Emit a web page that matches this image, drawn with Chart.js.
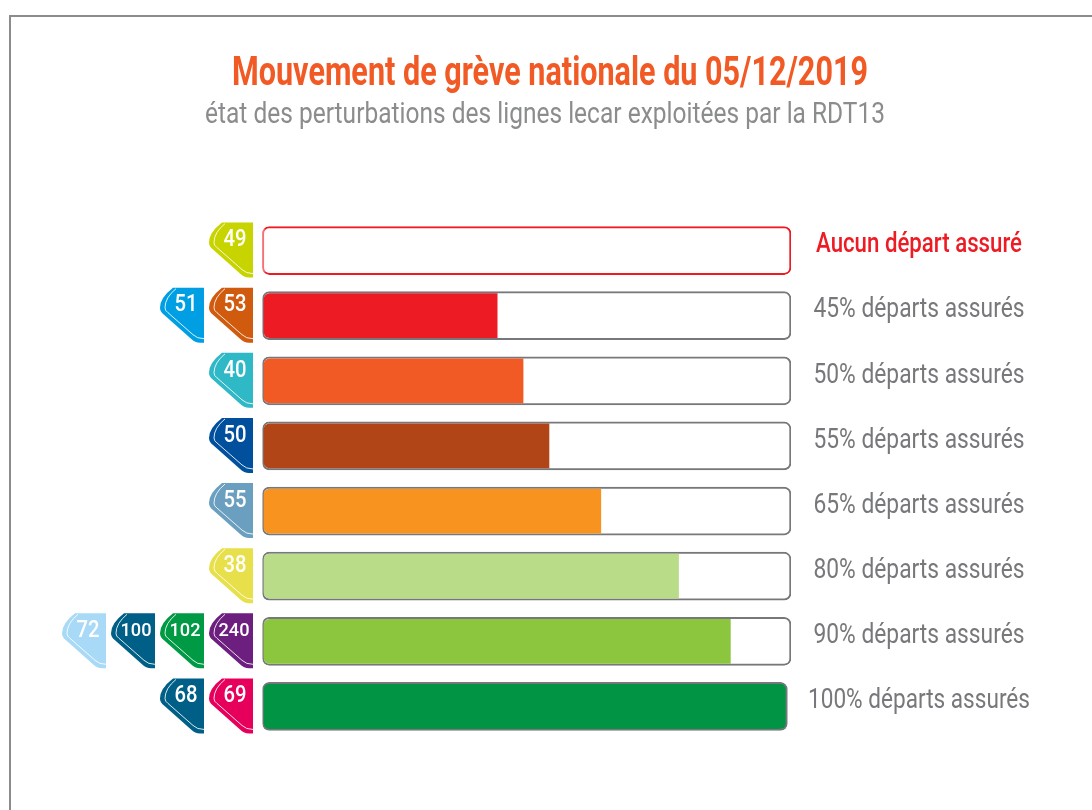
<!DOCTYPE html>
<html>
<head>
<meta charset="utf-8">
<title>Mouvement de grève</title>
<script src="https://cdn.jsdelivr.net/npm/chart.js@4"></script>
<style>
  html, body { margin: 0; background: #fff; }
  #wrap { width: 1092px; height: 810px; }
</style>
</head>
<body>
<div id="wrap"><canvas id="strikeChart"></canvas></div>
<script>
// === Data ===
const chartTitle = "Mouvement de grève nationale du 05/12/2019";
const chartSubtitle = "état des perturbations des lignes lecar exploitées par la RDT13";

const categories = [
  "Aucun départ assuré",
  "45% départs assurés",
  "50% départs assurés",
  "55% départs assurés",
  "65% départs assurés",
  "80% départs assurés",
  "90% départs assurés",
  "100% départs assurés"
];
const assuredPercent = [0, 45, 50, 55, 65, 80, 90, 100];
const trackEnds = [101.7, 101.7, 101.7, 101.7, 101.7, 101.7, 101.7, 101];
const barColours = ["#ffffff", "#ed1c24", "#f15a24", "#b14518", "#f7931e", "#b9dc88", "#8cc63f", "#009444"];

const lineNumbers = [
  ["49"],
  ["51", "53"],
  ["40"],
  ["50"],
  ["55"],
  ["38"],
  ["72", "100", "102", "240"],
  ["68", "69"]
];
const lineColours = [
  ["#c8d400"],
  ["#009fe3", "#d05a0e"],
  ["#2fb8c6"],
  ["#00509d"],
  ["#6a9fc0"],
  ["#e8e04a"],
  ["#a8daf8", "#005f86", "#009a44", "#6d1f80"],
  ["#005f86", "#e6005c"]
];

const textFont = "Roboto, sans-serif";
const trackStart = -0.3;

// === Frame and headings ===
const framePlugin = {
  id: "frame",
  beforeDraw(chart) {
    const ctx = chart.ctx;
    ctx.save();
    ctx.strokeStyle = "#8c8c8c";
    ctx.lineWidth = 2;
    ctx.beginPath();
    ctx.moveTo(10, 810);
    ctx.lineTo(10, 16);
    ctx.lineTo(1092, 16);
    ctx.stroke();

    // fillText's maxWidth squeezes the text, the original uses a condensed face
    ctx.textAlign = "center";
    ctx.textBaseline = "middle";
    ctx.fillStyle = "#f15a24";
    ctx.font = "bold 41px " + textFont;
    ctx.fillText(chartTitle, 550, 75, 636);
    ctx.fillStyle = "#8a8c8e";
    ctx.font = "30px " + textFont;
    ctx.fillText(chartSubtitle, 545, 115, 680);
    ctx.restore();
  }
};

// === Tag shape of a line number, right edge at x ===
function drawLineTag(ctx, x, cy, colour, number) {
  const top = cy - 28;
  ctx.fillStyle = colour;
  ctx.beginPath();
  ctx.moveTo(x, top);
  ctx.lineTo(x - 31, top);
  ctx.quadraticCurveTo(x - 44, top + 10, x - 44, top + 20);
  ctx.quadraticCurveTo(x - 44, top + 24, x - 40, top + 27);
  ctx.lineTo(x - 13, top + 51);
  ctx.quadraticCurveTo(x - 9, top + 55, x - 4, top + 55);
  ctx.lineTo(x, top + 55);
  ctx.closePath();
  ctx.fill();

  // thin white inner line
  ctx.strokeStyle = "rgba(255,255,255,0.85)";
  ctx.lineWidth = 1;
  ctx.beginPath();
  ctx.moveTo(x - 28, top + 1);
  ctx.quadraticCurveTo(x - 39, top + 10, x - 39, top + 20);
  ctx.quadraticCurveTo(x - 39, top + 23, x - 36, top + 25);
  ctx.lineTo(x - 11, top + 47);
  ctx.quadraticCurveTo(x - 7, top + 51, x, top + 51);
  ctx.stroke();

  const long = number.length > 2;
  ctx.fillStyle = "#ffffff";
  ctx.font = "500 " + (long ? 19 : 23) + "px " + textFont;
  ctx.textAlign = "center";
  ctx.textBaseline = "middle";
  ctx.fillText(number, x - (long ? 19 : 18), top + 18, long ? 31 : 23);
}

// === Tags on the left, captions on the right of each bar ===
const rowDecorPlugin = {
  id: "rowDecor",
  afterDatasetsDraw(chart) {
    const ctx = chart.ctx;
    const yScale = chart.scales.y;
    ctx.save();
    categories.forEach((caption, i) => {
      const cy = yScale.getPixelForValue(i);

      const numbers = lineNumbers[i];
      numbers.forEach((number, k) => {
        const slot = numbers.length - 1 - k;
        drawLineTag(ctx, 253 - slot * 49, cy, lineColours[i][k], number);
      });

      ctx.fillStyle = i === 0 ? "#ed1c24" : "#77787b";
      ctx.font = (i === 0 ? "500 27px " : "27px ") + textFont;
      ctx.textAlign = "center";
      ctx.textBaseline = "middle";
      const captionWidth = i === 0 ? 206 : (i === 7 ? 222 : 211);
      ctx.fillText(caption, 919, cy - 5, captionWidth);
    });
    ctx.restore();
  }
};

// === Chart ===
new Chart(document.getElementById("strikeChart").getContext("2d"), {
  type: "bar",
  data: {
    labels: categories,
    datasets: [
      {
        label: "Départs assurés",
        data: assuredPercent,
        backgroundColor: barColours,
        borderWidth: 0,
        barThickness: 44,
        borderRadius: (c) => {
          const r = c.dataIndex === categories.length - 1 ? 6 : 0;
          return { topLeft: 6, bottomLeft: 6, topRight: r, bottomRight: r };
        },
        borderSkipped: false
      },
      {
        label: "Fond",
        data: trackEnds.map((end) => [trackStart, end]),
        // the full bar has no white part left in its track
        backgroundColor: (c) => (assuredPercent[c.dataIndex] === 100 ? barColours[c.dataIndex] : "#ffffff"),
        borderColor: (c) => (c.dataIndex === 0 ? "#ed1c24" : "#77787b"),
        borderWidth: 2,
        barThickness: 48,
        borderRadius: 7,
        borderSkipped: false
      }
    ]
  },
  options: {
    indexAxis: "y",
    responsive: true,
    maintainAspectRatio: false,
    animation: false,
    layout: { padding: { left: 262.4, right: 301, top: 218, bottom: 71 } },
    datasets: { bar: { grouped: false } },
    scales: {
      x: { display: false, min: trackStart, max: 101.7 },
      y: { display: false }
    },
    plugins: {
      legend: { display: false },
      tooltip: { enabled: false }
    }
  },
  plugins: [framePlugin, rowDecorPlugin]
});
</script>
</body>
</html>
